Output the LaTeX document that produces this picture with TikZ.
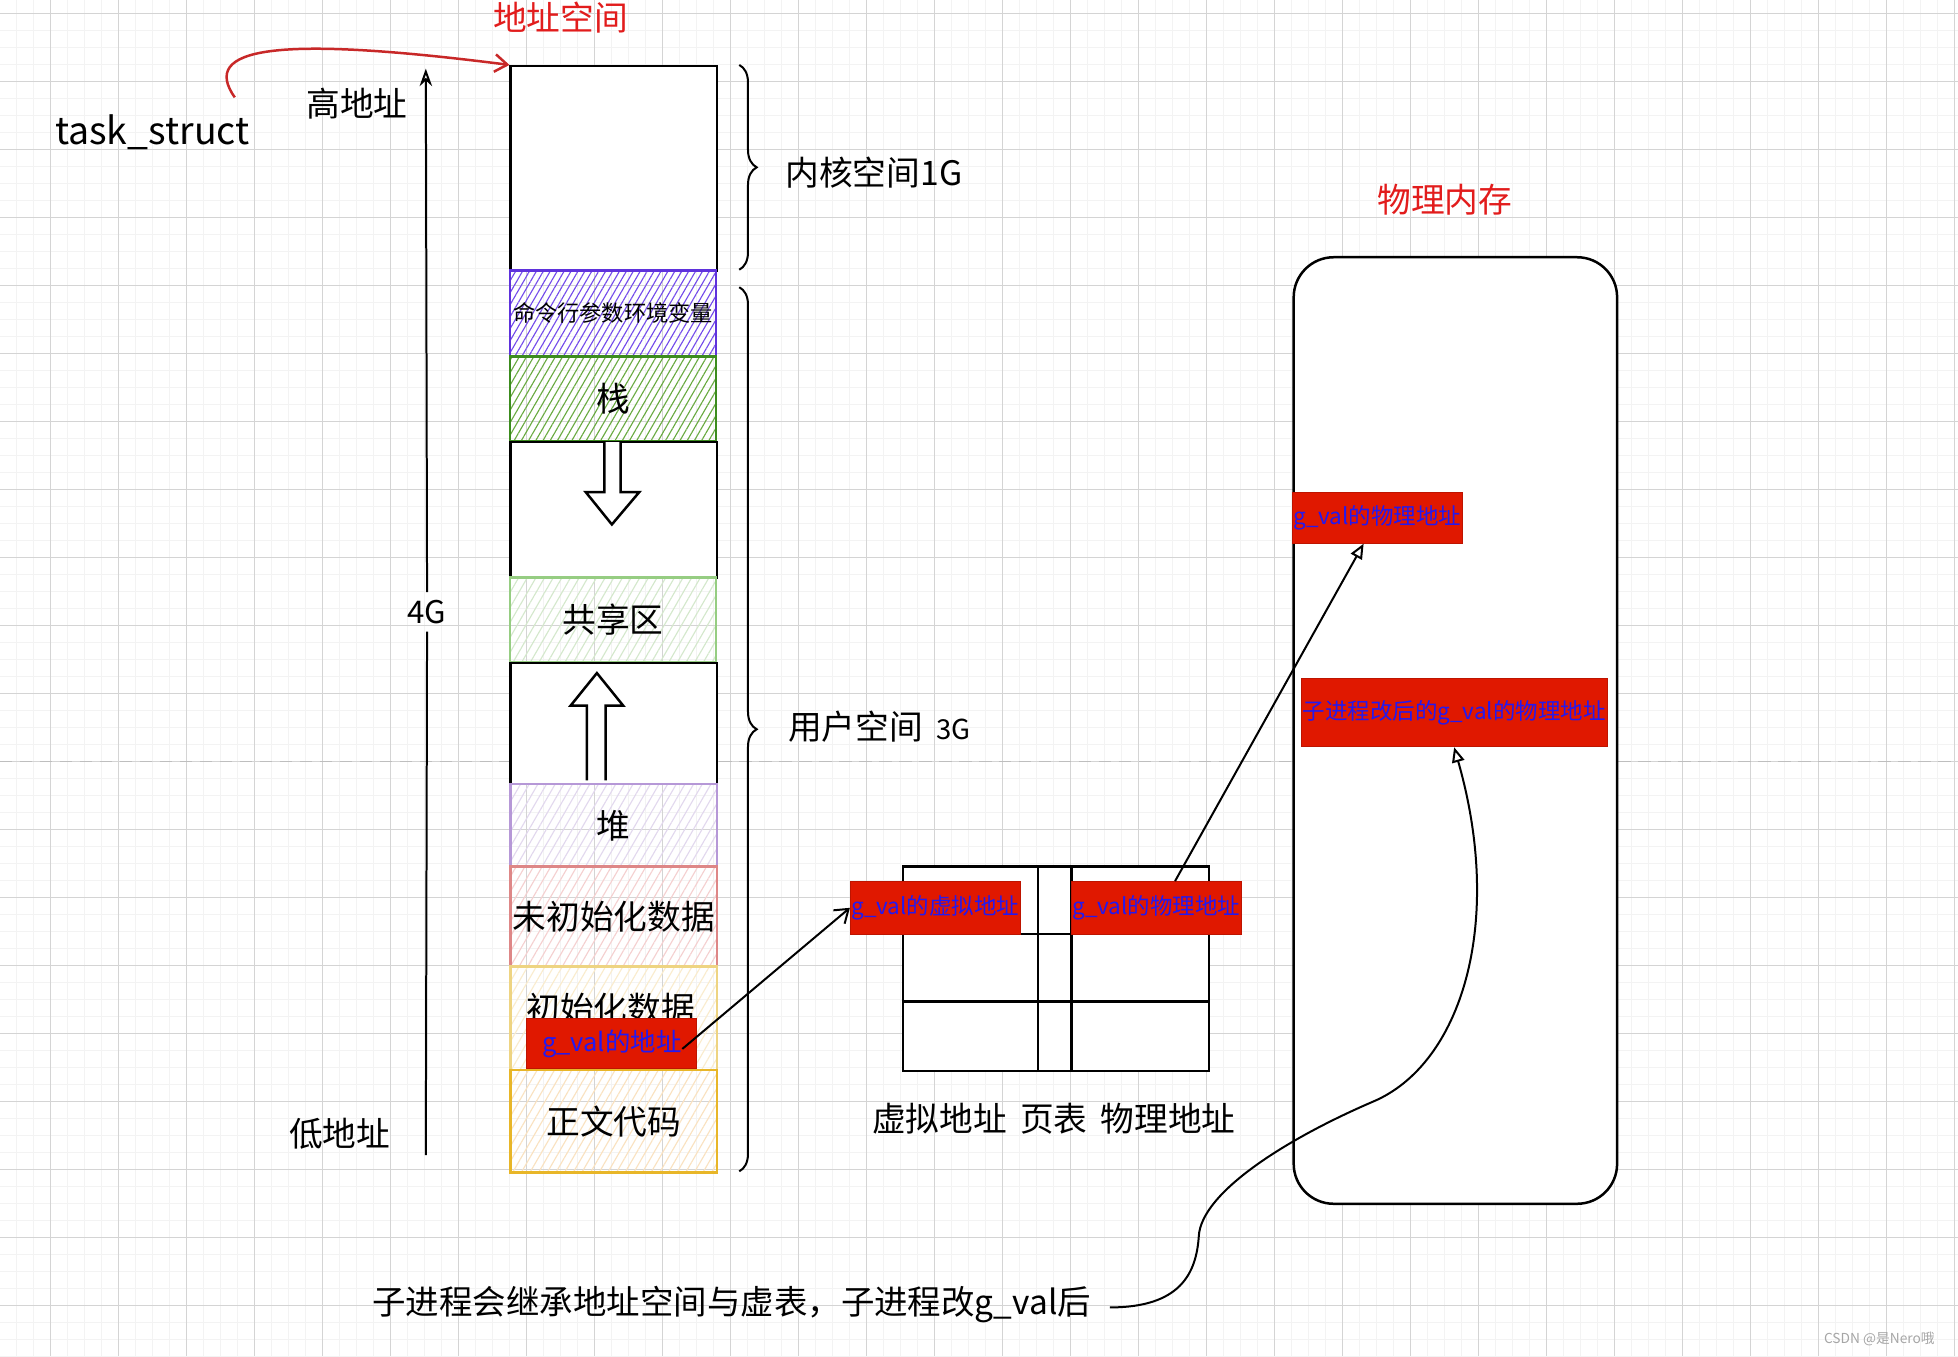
\documentclass[tikz,border=0pt]{standalone}
\usepackage{fontspec}
\setmainfont{Noto Sans CJK SC}
\usetikzlibrary{arrows.meta,patterns.meta,decorations.pathreplacing}
\definecolor{titlered}{RGB}{226,28,28}
\definecolor{arrowred}{RGB}{200,40,40}
\definecolor{boxred}{RGB}{224,24,0}
\definecolor{txtblue}{RGB}{35,25,240}
\definecolor{cmdv}{RGB}{95,50,220}
\definecolor{cmdvh}{RGB}{115,75,235}
\definecolor{stkg}{RGB}{60,140,30}
\definecolor{stkgh}{RGB}{105,170,65}
\definecolor{shareg}{RGB}{150,205,130}
\definecolor{sharegh}{RGB}{212,232,204}
\definecolor{heapp}{RGB}{182,152,215}
\definecolor{heapph}{RGB}{226,216,238}
\definecolor{bssr}{RGB}{222,135,135}
\definecolor{bssrh}{RGB}{245,208,208}
\definecolor{datay}{RGB}{238,212,130}
\definecolor{datayh}{RGB}{250,236,205}
\definecolor{texty}{RGB}{232,182,40}
\definecolor{textyh}{RGB}{250,226,192}
\definecolor{gridmin}{RGB}{243,243,243}
\definecolor{gridmaj}{RGB}{212,212,212}
\definecolor{dashgray}{RGB}{190,190,190}
\begin{document}
\begin{tikzpicture}[x=0.5pt,y=-0.5pt,
  big/.style={font=\fontsize{13.5}{16}\selectfont},
  small/.style={font=\fontsize{9}{10}\selectfont},
  seg/.style={line width=1pt, minimum width=82.5pt, inner sep=0pt, anchor=north west, big},
  hatch/.style n args={3}{draw=#1, pattern={Lines[angle=60,distance=#3,line width=0.45pt]}, pattern color=#2},
  redbox/.style={fill=boxred, draw=boxred!85!black, line width=0.4pt, inner sep=0pt, text=txtblue, small},
  conn/.style={line width=0.8pt, black},
  brace/.style={decorate, decoration={brace, amplitude=7pt}, line width=0.8pt},
  minorgrid/.style={gridmin, line width=0.4pt},
  majorgrid/.style={gridmaj, line width=0.45pt}
]
\useasboundingbox (0,0) rectangle (1568,1086);
\clip (0,0) rectangle (1568,1086);
\fill[white] (0,0) rectangle (1568,1086);
% grid
\foreach \i in {-3,...,113} {\draw[minorgrid] ({40.3+\i*13.615},0) -- ({40.3+\i*13.615},1086);}
\foreach \j in {-1,...,80} {\draw[minorgrid] (0,{10.7+\j*13.615}) -- (1568,{10.7+\j*13.615});}
\foreach \k in {0,...,28} {\draw[majorgrid] ({40.3+\k*54.46},0) -- ({40.3+\k*54.46},1086);}
\foreach \k in {0,...,19} {\draw[majorgrid] (0,{10.7+\k*54.46}) -- (1568,{10.7+\k*54.46});}
% dashed guide line
\draw[dashgray, line width=0.6pt, dash pattern=on 5pt off 3pt] (0,610) -- (1568,610);

% titles
\node[big, text=titlered] (t1) at (449,14) {地址空间};
\node[big, text=titlered] (t2) at (1157,160) {物理内存};

% left labels
\node[font=\fontsize{15}{17}\selectfont] (ts) at (122,106) {task\_struct};
\node[big] (hi) at (286,83) {高地址};
\node[big] (lo) at (272,908) {低地址};
\node[font=\fontsize{12.5}{14}\selectfont, inner sep=3pt] (g4) at (342,490) {4G};
\coordinate (axbot) at (341,925);
\coordinate (axtop) at (341,55);
\draw[conn] (axbot) -- (g4.south);
\draw[conn, -{Stealth[open, length=7pt, width=5pt]}] (g4.north) -- (axtop);

% address space column
\node[seg, draw=black, fill=white, minimum height=82pt] (kern) at (408,52) {};
\node[seg, hatch={cmdv}{cmdvh}{2.4pt}, minimum height=34.5pt, font=\fontsize{8.9}{10}\selectfont] (cmd) at (408,216) {命令行参数环境变量};
\node[seg, hatch={stkg}{stkgh}{2.5pt}, minimum height=34pt] (stk) at (408,285) {栈};
\node[seg, draw=black, fill=white, minimum height=54.5pt] (gap1) at (408,353) {};
\node[seg, hatch={shareg}{sharegh}{3pt}, minimum height=34pt] (share) at (408,462) {共享区};
\node[seg, draw=black, fill=white, minimum height=48.5pt] (gap2) at (408,530) {};
\node[seg, hatch={heapp}{heapph}{3pt}, minimum height=33pt] (heap) at (408,627) {堆};
\node[seg, hatch={bssr}{bssrh}{3pt}, minimum height=40pt] (bss) at (408,693) {未初始化数据};
\node[seg, hatch={datay}{datayh}{3pt}, minimum height=41.5pt] (data) at (408,773) {};
\node[seg, hatch={texty}{textyh}{3pt}, minimum height=41pt] (code) at (408,856) {正文代码};
\node[big] (datalab) at (489,808) {初始化数据};
\node[redbox, minimum width=68pt, minimum height=20pt, font=\fontsize{10.2}{12}\selectfont] (gaddr) at (490,836) {g\_val的地址};

% growth arrows
\draw[line width=1pt, fill=white] (484,354) -- (484,394) -- (469,394) -- (490,420) -- (512,394) -- (497,394) -- (497,354);
\draw[line width=1pt, fill=white] (470,625) -- (470,565) -- (457,565) -- (478,539) -- (499,565) -- (485,565) -- (485,625);

% braces
\draw[brace] (592,52) -- (592,216);
\draw[brace] (592,230) -- (592,938);
\node[big, anchor=west] (klab) at (622,138) {内核空间1G};
\node[big, anchor=west] (ulab) at (624,582) {用户空间\ \,{\fontsize{11}{12}\selectfont 3G}};

% red curved arrow from task_struct
\coordinate (ts0) at (188,78);
\draw[arrowred, line width=1pt, -{Straight Barb[length=5pt, width=7pt]}] (ts0) .. controls (160,38) and (220,28) .. (kern.north west);

% page table
\node[draw=black, line width=0.9pt, fill=white, minimum width=122.5pt, minimum height=82pt, inner sep=0pt, anchor=north west] (ptab) at (722,693) {};
\draw[line width=0.9pt] (831,693) -- (831,857);
\draw[line width=0.9pt] (858,693) -- (858,857);
\draw[line width=0.9pt] (722,748) -- (967,748);
\draw[line width=0.9pt] (722,802) -- (967,802);
\node[redbox, minimum width=68pt, minimum height=21pt] (vbox) at (749,727) {g\_val的虚拟地址};
\node[redbox, minimum width=68pt, minimum height=21pt] (pbox) at (926,727) {g\_val的物理地址};
\node[big] (ptlab) at (844,896) {虚拟地址\ \,页表\ \,物理地址};

% physical memory
\node[draw=black, line width=1pt, fill=white, rounded corners=16pt, minimum width=129.5pt, minimum height=379pt, inner sep=0pt, anchor=north west] (pmem) at (1035,205) {};
\node[redbox, minimum width=68pt, minimum height=20.5pt] (pm1) at (1103,414.5) {g\_val的物理地址};
\node[redbox, minimum width=122.5pt, minimum height=27.5pt] (pm2) at (1164.5,570.5) {子进程改后的g\_val的物理地址};

% connectors
\draw[conn, -{Straight Barb[length=5pt, width=7pt]}] ([xshift=-6pt, yshift=-2pt]gaddr.east) -- (vbox.west);
\draw[conn, -{Triangle[open, length=6pt, width=5pt]}] ([xshift=7.5pt]pbox.north) -- ([xshift=-5.5pt]pm1.south);

% bottom note and curve
\node[font=\fontsize{13.4}{15}\selectfont] (bt) at (586,1045) {子进程会继承地址空间与虚表，子进程改g\_val后};
\draw[conn, -{Triangle[open, length=6pt, width=5pt]}] ([xshift=4pt, yshift=-1pt]bt.east) .. controls (945,1047) and (958,1020) .. (960,990) .. controls (962,955) and (1030,912) .. (1100,882) .. controls (1170,852) and (1205,740) .. (pm2.south);

% watermark
\node[font=\fontsize{5.5}{6}\selectfont, text=gray!70] (wm) at (1505,1072) {CSDN @是Nero哦};
\end{tikzpicture}
\end{document}
